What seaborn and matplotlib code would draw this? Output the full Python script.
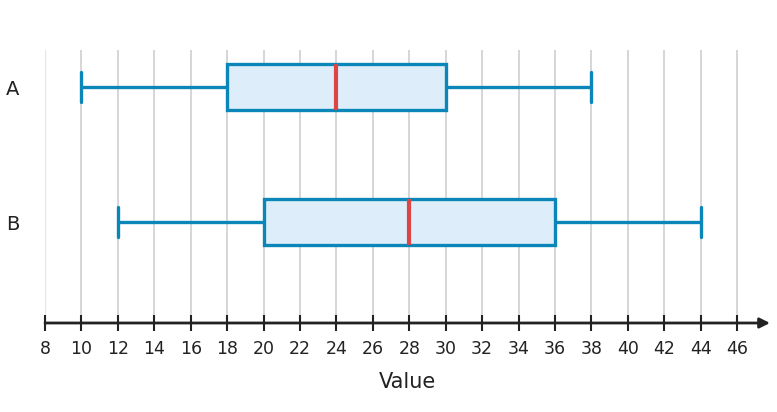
import numpy as np
import pandas as pd
import matplotlib
matplotlib.use("Agg")
import matplotlib.pyplot as plt
import seaborn as sns

categories = ["A", "B"]
# five-number summaries: min, Q1, median, Q3, max
values_A = [10, 18, 24, 30, 38]
values_B = [12, 20, 28, 36, 44]
xticks = list(range(8, 48, 2))

df = pd.DataFrame({
    "cat": ["A"] * len(values_A) + ["B"] * len(values_B),
    "Value": values_A + values_B,
})

sns.set_style("white")
plt.rcParams['font.family'] = ['DejaVu Sans']
fig = plt.figure(figsize=(7.77, 4.12), dpi=100)
ax = fig.add_axes([45/777, (412-323)/412, (770-45)/777, (323-50)/412])

edge = "#0a87b8"
for x in xticks[1:]:
    ax.axvline(x, color="#d0d0d0", lw=1.2, zorder=0)
ax.axvline(8, color="#e6e6e6", lw=1, zorder=0)

sns.boxplot(data=df, x="Value", y="cat", order=categories, orient="h", ax=ax,
            width=0.34, whis=np.inf, color="#ddeefa", linewidth=2.4,
            boxprops=dict(facecolor="#ddeefa", edgecolor=edge, linewidth=2.4),
            whiskerprops=dict(color=edge, linewidth=2.4),
            capprops=dict(color=edge, linewidth=2.4),
            medianprops=dict(color="#dd4444", linewidth=3),
            capwidths=0.22, zorder=3)

ax.set_xlim(8, 47.8)
ax.set_ylim(1.745, -0.275)
ax.set_xticks(xticks)
ax.tick_params(axis="x", bottom=True, direction="inout", length=12, width=1.5, color="#222222",
               labelsize=12.5, labelcolor="#222222", pad=6)
ax.tick_params(axis="y", left=False, length=0, labelsize=14, labelcolor="#222222", pad=28)
for lbl in ax.get_yticklabels():
    lbl.set_horizontalalignment("left")
for s in ["top", "right", "left"]:
    ax.spines[s].set_visible(False)
ax.spines["bottom"].set_visible(False)
ax.annotate("", xy=(1.0, 0), xytext=(0, 0), xycoords="axes fraction",
            arrowprops=dict(arrowstyle="-|>", color="#222222", lw=2,
                            mutation_scale=15, shrinkA=0, shrinkB=0), zorder=5)
ax.set_xlabel("Value", fontsize=15, color="#222222", labelpad=10)
ax.set_ylabel("")
fig.savefig("out.png", dpi=100)
